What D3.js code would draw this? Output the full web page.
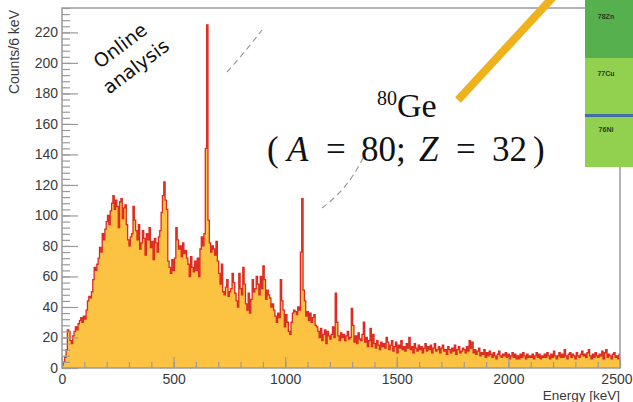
<!DOCTYPE html>
<html>
<head>
<meta charset="utf-8">
<script src="https://cdn.jsdelivr.net/npm/d3@7"></script>
<style>
  body { margin: 0; background: #fff; }
  svg { display: block; }
</style>
</head>
<body>
<div id="chart"></div>
<script>
// 80Ge gamma spectrum, 6 keV bins starting at 0 keV
var binWidth = 6;
var counts = [
  2, 4, 7, 12, 25, 24, 18, 16, 21, 24,
  27, 25, 29, 31, 33, 30, 34, 32, 38, 44,
  47, 46, 50, 58, 66, 64, 68, 72, 79, 76,
  88, 84, 91, 96, 100, 94, 103, 108, 113, 104,
  110, 106, 92, 109, 111, 98, 105, 107, 94, 84,
  80, 86, 88, 106, 97, 90, 84, 94, 78, 82,
  90, 85, 74, 88, 84, 92, 79, 83, 71, 85,
  82, 76, 86, 90, 102, 113, 122, 110, 104, 70,
  66, 62, 71, 64, 72, 92, 84, 78, 80, 73,
  82, 75, 77, 72, 68, 60, 73, 66, 63, 70,
  64, 72, 60, 78, 86, 80, 88, 144, 225, 97,
  82, 76, 80, 78, 74, 83, 70, 62, 55, 68,
  50, 48, 53, 58, 47, 50, 52, 62, 56, 49,
  44, 40, 62, 52, 48, 66, 55, 42, 38, 49,
  36, 45, 58, 50, 52, 60, 55, 48, 60, 52,
  67, 58, 45, 51, 48, 46, 40, 42, 38, 34,
  30, 36, 33, 58, 44, 38, 27, 35, 30, 24,
  22, 30, 36, 38, 37, 35, 40, 38, 76, 111,
  51, 44, 34, 37, 31, 36, 30, 33, 35, 28,
  27, 24, 20, 26, 18, 22, 25, 16, 24, 21,
  19, 22, 27, 20, 49, 30, 21, 18, 23, 20,
  22, 18, 21, 24, 19, 20, 39, 28, 17, 21,
  16, 23, 19, 18, 22, 30, 17, 20, 14, 18,
  26, 14, 22, 16, 13, 18, 15, 12, 17, 14,
  16, 13, 20, 17, 12, 15, 18, 11, 14, 17,
  10, 15, 13, 18, 12, 14, 11, 16, 13, 20,
  12, 14, 10, 16, 13, 11, 15, 12, 14, 10,
  13, 16, 11, 14, 12, 15, 10, 13, 16, 11,
  12, 14, 10, 13, 15, 11, 12, 9, 14, 12,
  10, 13, 11, 15, 9, 12, 14, 10, 11, 13,
  12, 10, 14, 11, 18, 13, 17, 10, 12, 9,
  11, 13, 8, 10, 9, 12, 7, 10, 8, 11,
  9, 7, 10, 8, 6, 9, 11, 8, 7, 9,
  8, 10, 7, 9, 6, 8, 10, 7, 9, 6,
  8, 6, 9, 7, 10, 8, 6, 9, 7, 8,
  7, 9, 6, 8, 10, 7, 9, 6, 8, 7,
  9, 7, 10, 8, 6, 9, 7, 11, 8, 6,
  8, 10, 7, 9, 7, 12, 8, 6, 9, 10,
  7, 9, 8, 6, 10, 8, 7, 9, 11, 8,
  9, 7, 10, 12, 8, 6, 9, 7, 10, 8,
  7, 9, 8, 11, 6, 10, 12, 7, 9, 8,
  6, 9, 10, 7, 8, 6, 9
];

var xTickLabels = [0, 500, 1000, 1500, 2000, 2500];
var yTickLabels = [0, 20, 40, 60, 80, 100, 120, 140, 160, 180, 200, 220];
var boxLabels = ["78Zn", "77Cu", "76Ni"];

var width = 633, height = 402;
var x0 = 62, x1 = 620, yTop = 8, yBot = 368;

var svg = d3.select("#chart")
  .append("svg")
  .attr("width", width)
  .attr("height", height);

var x = d3.scaleLinear().domain([0, 2500]).range([x0, x1]);
var y = d3.scaleLinear().domain([0, 236]).range([yBot, yTop]);

svg.append("clipPath").attr("id", "frame")
  .append("rect")
  .attr("x", x0).attr("y", yTop)
  .attr("width", x1 - x0).attr("height", yBot - yTop);

// histogram as steps
var pts = counts.map(function(c, i) { return [i * binWidth, c]; });
pts.push([counts.length * binWidth, counts[counts.length - 1]]);

var area = d3.area()
  .curve(d3.curveStepAfter)
  .x(function(d) { return x(d[0]); })
  .y0(y(0))
  .y1(function(d) { return y(d[1]); });

var line = d3.line()
  .curve(d3.curveStepAfter)
  .x(function(d) { return x(d[0]); })
  .y(function(d) { return y(d[1]); });

var hist = svg.append("g").attr("clip-path", "url(#frame)");
hist.append("path")
  .attr("d", area(pts))
  .attr("fill", "#fcc241");
hist.append("path")
  .attr("d", line(pts))
  .attr("fill", "none")
  .attr("stroke", "#dc2a22")
  .attr("stroke-width", 1.3);

// axes, ROOT style ticks inside the frame
var tickColor = "#9a9a9a";
var labelFont = "'Liberation Sans', Arial, sans-serif";

var yMinor = svg.append("g")
  .attr("transform", "translate(" + x0 + ",0)")
  .call(d3.axisLeft(y).tickValues(d3.range(0, 237, 4)).tickSize(-8).tickFormat(""));
var yMajor = svg.append("g")
  .attr("transform", "translate(" + x0 + ",0)")
  .call(d3.axisLeft(y).tickValues(yTickLabels).tickSize(-16).tickPadding(4).tickFormat(d3.format("d")));

var xMinor = svg.append("g")
  .attr("transform", "translate(0," + yBot + ")")
  .call(d3.axisBottom(x).tickValues(d3.range(0, 2501, 100)).tickSize(-6).tickFormat(""));
var xMajor = svg.append("g")
  .attr("transform", "translate(0," + yBot + ")")
  .call(d3.axisBottom(x).tickValues(xTickLabels).tickSize(-11).tickPadding(6).tickFormat(d3.format("d")));

[yMinor, yMajor, xMinor, xMajor].forEach(function(g) {
  g.select(".domain").remove();
  g.selectAll("line").attr("stroke", tickColor).attr("stroke-width", 1.2);
  g.selectAll("text")
    .attr("fill", "#3a3a3a")
    .style("font-family", labelFont)
    .style("font-size", "14px");
});
// last label sits against the page edge
xMajor.selectAll(".tick text")
  .filter(function(d) { return d === 2500; })
  .attr("text-anchor", "end")
  .attr("x", 632 - x(2500));

// frame
svg.append("rect")
  .attr("x", x0).attr("y", yTop)
  .attr("width", x1 - x0).attr("height", yBot - yTop)
  .attr("fill", "none")
  .attr("stroke", tickColor).attr("stroke-width", 1.5);

// axis titles
svg.append("text")
  .attr("transform", "translate(19,10) rotate(-90)")
  .attr("text-anchor", "end")
  .style("font-family", labelFont)
  .style("font-size", "14px")
  .attr("fill", "#3a3a3a")
  .text("Counts/6 keV");

svg.append("text")
  .attr("x", 620).attr("y", 400)
  .attr("text-anchor", "end")
  .style("font-family", labelFont)
  .style("font-size", "13.5px")
  .attr("fill", "#3a3a3a")
  .text("Energy [keV]");

// "Online analysis" annotation
var online = svg.append("g")
  .attr("transform", "translate(128,56) rotate(-37)")
  .style("font-family", "'DejaVu Sans', Verdana, sans-serif")
  .style("font-size", "19px")
  .attr("text-anchor", "middle")
  .attr("fill", "#111");
online.append("text").attr("y", -13).attr("dy", "0.35em").text("Online");
online.append("text").attr("y", 13).attr("dy", "0.35em").text("analysis");

// faint hand-drawn dashes
svg.append("path")
  .attr("d", "M227,72 C238,60 248,48 262,30")
  .attr("fill", "none").attr("stroke", "#9a9a9a").attr("stroke-width", 1.2)
  .attr("stroke-dasharray", "6,4");
svg.append("path")
  .attr("d", "M322,208 C335,198 350,185 364,156")
  .attr("fill", "none").attr("stroke", "#9a9a9a").attr("stroke-width", 1.2)
  .attr("stroke-dasharray", "6,4");

// nuclide chart cells
var cellX = 585;
svg.append("rect").attr("x", cellX).attr("y", 0).attr("width", 48).attr("height", 58).attr("fill", "#57b04e");
svg.append("rect").attr("x", cellX).attr("y", 58).attr("width", 48).attr("height", 57).attr("fill", "#92d050");
svg.append("rect").attr("x", cellX).attr("y", 117).attr("width", 48).attr("height", 50).attr("fill", "#92d050");
svg.append("rect").attr("x", cellX).attr("y", 114).attr("width", 48).attr("height", 3).attr("fill", "#3f6fa6");
svg.selectAll(".cell-label")
  .data(boxLabels).enter()
  .append("text")
  .attr("class", "cell-label")
  .attr("x", 606)
  .attr("y", function(d, i) { return [19, 76, 132][i]; })
  .attr("text-anchor", "middle")
  .style("font-family", labelFont)
  .style("font-size", "7px")
  .style("font-weight", "bold")
  .attr("fill", "#2a3a20")
  .text(function(d) { return d; });

// pointer line
svg.append("line")
  .attr("x1", 458).attr("y1", 100).attr("x2", 554).attr("y2", -4)
  .attr("stroke", "#eeb21c").attr("stroke-width", 8);

// nucleus label
var serif = "'Liberation Serif', 'Times New Roman', serif";
var ge = svg.append("text")
  .attr("x", 377).attr("y", 117)
  .style("font-family", serif)
  .attr("fill", "#111");
ge.append("tspan").attr("dy", -12).style("font-size", "20px").text("80");
ge.append("tspan").attr("dy", 12).style("font-size", "34px").text("Ge");

// (A = 80; Z = 32), pieces placed like the wide math spacing of the original
var formula = svg.append("text")
  .attr("y", 161)
  .style("font-family", serif)
  .style("font-size", "35px")
  .attr("fill", "#111");
[
  { t: "(", x: 267, it: false },
  { t: "A", x: 287, it: true },
  { t: "=", x: 326, it: false },
  { t: "80", x: 361, it: false },
  { t: ";", x: 396, it: false },
  { t: "Z", x: 419, it: true },
  { t: "=", x: 456, it: false },
  { t: "32", x: 492, it: false },
  { t: ")", x: 533, it: false }
].forEach(function(p) {
  formula.append("tspan")
    .attr("x", p.x)
    .style("font-style", p.it ? "italic" : "normal")
    .text(p.t);
});
</script>
</body>
</html>
